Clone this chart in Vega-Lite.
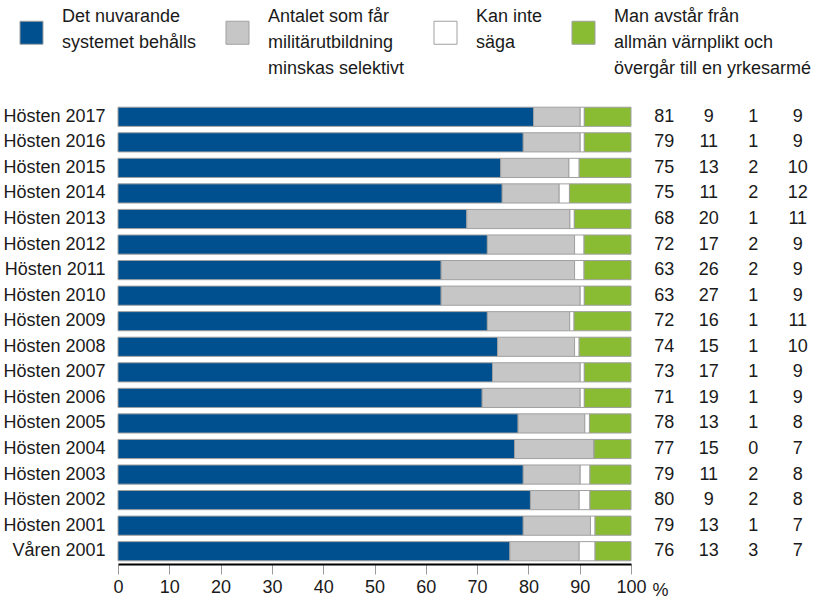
{
  "$schema": "https://vega.github.io/schema/vega-lite/v6.json",
  "background": "white",
  "padding": {"left": 2, "top": 20, "right": 5, "bottom": 5},
  "bounds": "flush",
  "config": {
    "view": {"stroke": null},
    "font": "Liberation Sans",
    "text": {"font": "Liberation Sans"}
  },
  "data": {
    "values": [
      {"p": "Hösten 2017", "k": 1, "c": "Det nuvarande systemet behålls", "v": 81.0, "n": 81},
      {"p": "Hösten 2017", "k": 2, "c": "Antalet som får militärutbildning minskas selektivt", "v": 9.1, "n": 9},
      {"p": "Hösten 2017", "k": 3, "c": "Kan inte säga", "v": 0.8, "n": 1},
      {"p": "Hösten 2017", "k": 4, "c": "Man avstår från allmän värnplikt och övergår till en yrkesarmé", "v": 9.1, "n": 9},
      {"p": "Hösten 2016", "k": 1, "c": "Det nuvarande systemet behålls", "v": 79.0, "n": 79},
      {"p": "Hösten 2016", "k": 2, "c": "Antalet som får militärutbildning minskas selektivt", "v": 11.1, "n": 11},
      {"p": "Hösten 2016", "k": 3, "c": "Kan inte säga", "v": 0.8, "n": 1},
      {"p": "Hösten 2016", "k": 4, "c": "Man avstår från allmän värnplikt och övergår till en yrkesarmé", "v": 9.1, "n": 9},
      {"p": "Hösten 2015", "k": 1, "c": "Det nuvarande systemet behålls", "v": 74.6, "n": 75},
      {"p": "Hösten 2015", "k": 2, "c": "Antalet som får militärutbildning minskas selektivt", "v": 13.3, "n": 13},
      {"p": "Hösten 2015", "k": 3, "c": "Kan inte säga", "v": 2.0, "n": 2},
      {"p": "Hösten 2015", "k": 4, "c": "Man avstår från allmän värnplikt och övergår till en yrkesarmé", "v": 10.1, "n": 10},
      {"p": "Hösten 2014", "k": 1, "c": "Det nuvarande systemet behålls", "v": 74.9, "n": 75},
      {"p": "Hösten 2014", "k": 2, "c": "Antalet som får militärutbildning minskas selektivt", "v": 11.1, "n": 11},
      {"p": "Hösten 2014", "k": 3, "c": "Kan inte säga", "v": 2.0, "n": 2},
      {"p": "Hösten 2014", "k": 4, "c": "Man avstår från allmän värnplikt och övergår till en yrkesarmé", "v": 12.0, "n": 12},
      {"p": "Hösten 2013", "k": 1, "c": "Det nuvarande systemet behålls", "v": 68.0, "n": 68},
      {"p": "Hösten 2013", "k": 2, "c": "Antalet som får militärutbildning minskas selektivt", "v": 20.1, "n": 20},
      {"p": "Hösten 2013", "k": 3, "c": "Kan inte säga", "v": 0.85, "n": 1},
      {"p": "Hösten 2013", "k": 4, "c": "Man avstår från allmän värnplikt och övergår till en yrkesarmé", "v": 11.05, "n": 11},
      {"p": "Hösten 2012", "k": 1, "c": "Det nuvarande systemet behålls", "v": 72.0, "n": 72},
      {"p": "Hösten 2012", "k": 2, "c": "Antalet som får militärutbildning minskas selektivt", "v": 17.0, "n": 17},
      {"p": "Hösten 2012", "k": 3, "c": "Kan inte säga", "v": 1.85, "n": 2},
      {"p": "Hösten 2012", "k": 4, "c": "Man avstår från allmän värnplikt och övergår till en yrkesarmé", "v": 9.15, "n": 9},
      {"p": "Hösten 2011", "k": 1, "c": "Det nuvarande systemet behålls", "v": 63.0, "n": 63},
      {"p": "Hösten 2011", "k": 2, "c": "Antalet som får militärutbildning minskas selektivt", "v": 26.0, "n": 26},
      {"p": "Hösten 2011", "k": 3, "c": "Kan inte säga", "v": 1.85, "n": 2},
      {"p": "Hösten 2011", "k": 4, "c": "Man avstår från allmän värnplikt och övergår till en yrkesarmé", "v": 9.15, "n": 9},
      {"p": "Hösten 2010", "k": 1, "c": "Det nuvarande systemet behålls", "v": 63.0, "n": 63},
      {"p": "Hösten 2010", "k": 2, "c": "Antalet som får militärutbildning minskas selektivt", "v": 27.1, "n": 27},
      {"p": "Hösten 2010", "k": 3, "c": "Kan inte säga", "v": 0.8, "n": 1},
      {"p": "Hösten 2010", "k": 4, "c": "Man avstår från allmän värnplikt och övergår till en yrkesarmé", "v": 9.1, "n": 9},
      {"p": "Hösten 2009", "k": 1, "c": "Det nuvarande systemet behålls", "v": 72.0, "n": 72},
      {"p": "Hösten 2009", "k": 2, "c": "Antalet som får militärutbildning minskas selektivt", "v": 16.05, "n": 16},
      {"p": "Hösten 2009", "k": 3, "c": "Kan inte säga", "v": 0.85, "n": 1},
      {"p": "Hösten 2009", "k": 4, "c": "Man avstår från allmän värnplikt och övergår till en yrkesarmé", "v": 11.1, "n": 11},
      {"p": "Hösten 2008", "k": 1, "c": "Det nuvarande systemet behålls", "v": 74.0, "n": 74},
      {"p": "Hösten 2008", "k": 2, "c": "Antalet som får militärutbildning minskas selektivt", "v": 15.0, "n": 15},
      {"p": "Hösten 2008", "k": 3, "c": "Kan inte säga", "v": 0.9, "n": 1},
      {"p": "Hösten 2008", "k": 4, "c": "Man avstår från allmän värnplikt och övergår till en yrkesarmé", "v": 10.1, "n": 10},
      {"p": "Hösten 2007", "k": 1, "c": "Det nuvarande systemet behålls", "v": 73.0, "n": 73},
      {"p": "Hösten 2007", "k": 2, "c": "Antalet som får militärutbildning minskas selektivt", "v": 17.1, "n": 17},
      {"p": "Hösten 2007", "k": 3, "c": "Kan inte säga", "v": 0.8, "n": 1},
      {"p": "Hösten 2007", "k": 4, "c": "Man avstår från allmän värnplikt och övergår till en yrkesarmé", "v": 9.1, "n": 9},
      {"p": "Hösten 2006", "k": 1, "c": "Det nuvarande systemet behålls", "v": 71.0, "n": 71},
      {"p": "Hösten 2006", "k": 2, "c": "Antalet som får militärutbildning minskas selektivt", "v": 19.1, "n": 19},
      {"p": "Hösten 2006", "k": 3, "c": "Kan inte säga", "v": 0.8, "n": 1},
      {"p": "Hösten 2006", "k": 4, "c": "Man avstår från allmän värnplikt och övergår till en yrkesarmé", "v": 9.1, "n": 9},
      {"p": "Hösten 2005", "k": 1, "c": "Det nuvarande systemet behålls", "v": 78.0, "n": 78},
      {"p": "Hösten 2005", "k": 2, "c": "Antalet som får militärutbildning minskas selektivt", "v": 13.0, "n": 13},
      {"p": "Hösten 2005", "k": 3, "c": "Kan inte säga", "v": 0.9, "n": 1},
      {"p": "Hösten 2005", "k": 4, "c": "Man avstår från allmän värnplikt och övergår till en yrkesarmé", "v": 8.1, "n": 8},
      {"p": "Hösten 2004", "k": 1, "c": "Det nuvarande systemet behålls", "v": 77.3, "n": 77},
      {"p": "Hösten 2004", "k": 2, "c": "Antalet som får militärutbildning minskas selektivt", "v": 15.5, "n": 15},
      {"p": "Hösten 2004", "k": 3, "c": "Kan inte säga", "v": 0.0, "n": 0},
      {"p": "Hösten 2004", "k": 4, "c": "Man avstår från allmän värnplikt och övergår till en yrkesarmé", "v": 7.2, "n": 7},
      {"p": "Hösten 2003", "k": 1, "c": "Det nuvarande systemet behålls", "v": 79.0, "n": 79},
      {"p": "Hösten 2003", "k": 2, "c": "Antalet som får militärutbildning minskas selektivt", "v": 11.1, "n": 11},
      {"p": "Hösten 2003", "k": 3, "c": "Kan inte säga", "v": 1.9, "n": 2},
      {"p": "Hösten 2003", "k": 4, "c": "Man avstår från allmän värnplikt och övergår till en yrkesarmé", "v": 8.0, "n": 8},
      {"p": "Hösten 2002", "k": 1, "c": "Det nuvarande systemet behålls", "v": 80.4, "n": 80},
      {"p": "Hösten 2002", "k": 2, "c": "Antalet som får militärutbildning minskas selektivt", "v": 9.5, "n": 9},
      {"p": "Hösten 2002", "k": 3, "c": "Kan inte säga", "v": 2.1, "n": 2},
      {"p": "Hösten 2002", "k": 4, "c": "Man avstår från allmän värnplikt och övergår till en yrkesarmé", "v": 8.0, "n": 8},
      {"p": "Hösten 2001", "k": 1, "c": "Det nuvarande systemet behålls", "v": 79.0, "n": 79},
      {"p": "Hösten 2001", "k": 2, "c": "Antalet som får militärutbildning minskas selektivt", "v": 13.1, "n": 13},
      {"p": "Hösten 2001", "k": 3, "c": "Kan inte säga", "v": 0.9, "n": 1},
      {"p": "Hösten 2001", "k": 4, "c": "Man avstår från allmän värnplikt och övergår till en yrkesarmé", "v": 7.0, "n": 7},
      {"p": "Våren 2001", "k": 1, "c": "Det nuvarande systemet behålls", "v": 76.4, "n": 76},
      {"p": "Våren 2001", "k": 2, "c": "Antalet som får militärutbildning minskas selektivt", "v": 13.5, "n": 13},
      {"p": "Våren 2001", "k": 3, "c": "Kan inte säga", "v": 3.1, "n": 3},
      {"p": "Våren 2001", "k": 4, "c": "Man avstår från allmän värnplikt och övergår till en yrkesarmé", "v": 7.0, "n": 7}
    ]
  },
  "spacing": 11,
  "hconcat": [
    {
      "width": 513,
      "height": 460,
      "mark": {"type": "bar", "stroke": "#a0a0a0", "strokeWidth": 1},
      "encoding": {
        "y": {
          "field": "p", "type": "nominal", "sort": null,
          "scale": {"paddingInner": 0.25, "paddingOuter": 0.125},
          "axis": {"title": null, "ticks": false, "domain": false, "labelFontSize": 18, "labelColor": "#1a1a1a", "labelPadding": 13, "labelLimit": 200}
        },
        "x": {
          "field": "v", "type": "quantitative", "stack": "zero",
          "scale": {"domain": [0, 100], "nice": false},
          "axis": {
            "values": [0, 10, 20, 30, 40, 50, 60, 70, 80, 90, 100],
            "grid": false, "domainColor": "#000000", "domainWidth": 2,
            "tickColor": "#9a9a9a", "tickSize": 10, "tickWidth": 1,
            "labelFontSize": 18, "labelColor": "#1a1a1a", "labelPadding": 4, "labelFlush": false,
            "title": "%", "titleFontSize": 18, "titleFontWeight": "normal", "titleColor": "#1a1a1a",
            "titleAnchor": "start", "titleAlign": "left", "titleX": 534, "titleY": 26, "titleBaseline": "middle"
          }
        },
        "color": {
          "field": "c", "type": "nominal",
          "sort": ["Det nuvarande systemet behålls", "Antalet som får militärutbildning minskas selektivt", "Kan inte säga", "Man avstår från allmän värnplikt och övergår till en yrkesarmé"],
          "scale": {
            "domain": ["Det nuvarande systemet behålls", "Antalet som får militärutbildning minskas selektivt", "Kan inte säga", "Man avstår från allmän värnplikt och övergår till en yrkesarmé"],
            "range": ["#00508f", "#c6c6c6", "#ffffff", "#89bb33"]
          },
          "legend": {
            "title": null, "orient": "none", "legendX": -99, "legendY": -84, "direction": "horizontal", "columns": 4,
            "symbolType": "square", "symbolSize": 530, "symbolStrokeColor": "#a0a0a0", "symbolStrokeWidth": 1,
            "labelFontSize": 18, "labelColor": "#1a1a1a", "labelOffset": 18, "labelLimit": 300,
            "columnPadding": 26, "labelBaseline": "middle",
            "labelExpr": "datum.label == 'Det nuvarande systemet behålls' ? ['Det nuvarande', 'systemet behålls', ''] : datum.label == 'Kan inte säga' ? ['Kan inte', 'säga', ''] : datum.label == 'Man avstår från allmän värnplikt och övergår till en yrkesarmé' ? ['Man avstår från', 'allmän värnplikt och', 'övergår till en yrkesarmé'] : ['Antalet som får', 'militärutbildning', 'minskas selektivt']",
            "encode": {"labels": {"update": {"lineHeight": {"value": 26}, "dy": {"value": -16}}}}
          }
        },
        "order": {"field": "k", "sort": "ascending"}
      }
    },
    {
      "width": 178,
      "height": 460,
      "mark": {"type": "text", "fontSize": 18, "color": "#1a1a1a"},
      "encoding": {
        "y": {"field": "p", "type": "nominal", "sort": null, "scale": {"paddingInner": 0.25, "paddingOuter": 0.125}, "axis": null},
        "x": {
          "field": "c", "type": "nominal",
          "sort": ["Det nuvarande systemet behålls", "Antalet som får militärutbildning minskas selektivt", "Kan inte säga", "Man avstår från allmän värnplikt och övergår till en yrkesarmé"],
          "scale": {"type": "point", "padding": 0.5},
          "axis": null
        },
        "text": {"field": "n", "type": "quantitative"}
      }
    }
  ]
}
